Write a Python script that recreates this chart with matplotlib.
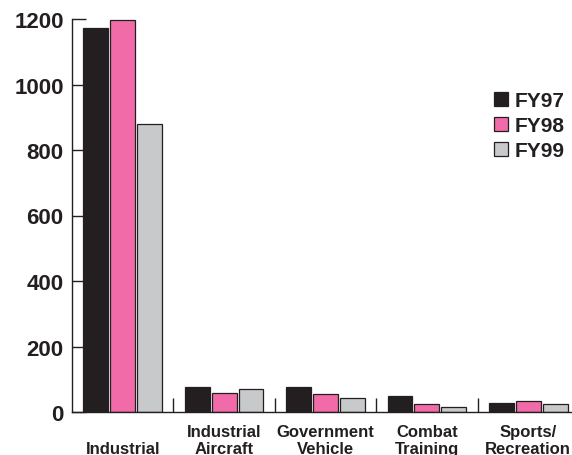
import matplotlib
matplotlib.use("Agg")
import matplotlib.pyplot as plt
import matplotlib.transforms as mtransforms
import numpy as np

# Mishap counts by category and fiscal year
categories = ["Industrial", "Industrial\nAircraft", "Government\nVehicle",
              "Combat\nTraining", "Sports/\nRecreation"]
years = ["FY97", "FY98", "FY99"]
fy97 = [1172, 77, 77, 50, 27]
fy98 = [1198, 59, 56, 24, 35]
fy99 = [878, 69, 42, 15, 24]
y_ticks = [0, 200, 400, 600, 800, 1000, 1200]

colors = ["#231f20", "#f06ba8", "#c8c9cb"]
ink = "#231f20"

plt.rcParams["font.family"] = ["Liberation Sans", "DejaVu Sans"]
plt.rcParams["font.weight"] = "bold"

W, H = 572, 456
fig = plt.figure(figsize=(W / 100, H / 100), dpi=100)
ax = fig.add_axes([72 / W, 43 / H, 507 / W, 393 / H])

x = np.arange(len(categories))
pitch = 0.266
width = 0.245
for i, (vals, name) in enumerate(zip([fy97, fy98, fy99], years)):
    ax.bar(x + (i - 1) * pitch, vals, width, color=colors[i],
           edgecolor=ink, linewidth=0.9, label=name)

ax.set_xlim(-0.5, len(categories) - 0.5)
ax.set_ylim(0, 1200)

for side in ["top", "right"]:
    ax.spines[side].set_visible(False)
for side in ["left", "bottom"]:
    ax.spines[side].set_color(ink)
    ax.spines[side].set_linewidth(1.0)

ax.set_yticks(y_ticks)
ax.set_yticklabels([str(v) for v in y_ticks])
ax.tick_params(axis="y", direction="in", length=10, width=1.0, color=ink,
               pad=6, labelsize=16, labelcolor=ink)

# group separators on the x axis
ax.set_xticks(x[1:] - 0.5)
ax.set_xticklabels([])
ax.tick_params(axis="x", direction="in", length=10, width=1.0, color=ink)

# category names; one-line names sit on the lower line
trans = mtransforms.blended_transform_factory(ax.transData, fig.transFigure)
line_px = 17
for xi, name in zip(x, categories):
    nlines = name.count("\n") + 1
    top_px = 425 + (2 - nlines) * line_px
    ax.text(xi, 1 - top_px / H, name, transform=trans, ha="center", va="top",
            fontsize=12, fontweight="bold", color=ink, linespacing=1.2,
            clip_on=False)

leg = ax.legend(loc="upper left", bbox_to_anchor=(494 / W, 1 - 92 / H),
                bbox_transform=fig.transFigure, frameon=False,
                prop={"size": 15, "weight": "bold"},
                handlelength=0.65, handleheight=0.65, handletextpad=0.35,
                labelspacing=0.3, borderpad=0, borderaxespad=0)
for t in leg.get_texts():
    t.set_color(ink)

fig.savefig("out.png", dpi=100)
